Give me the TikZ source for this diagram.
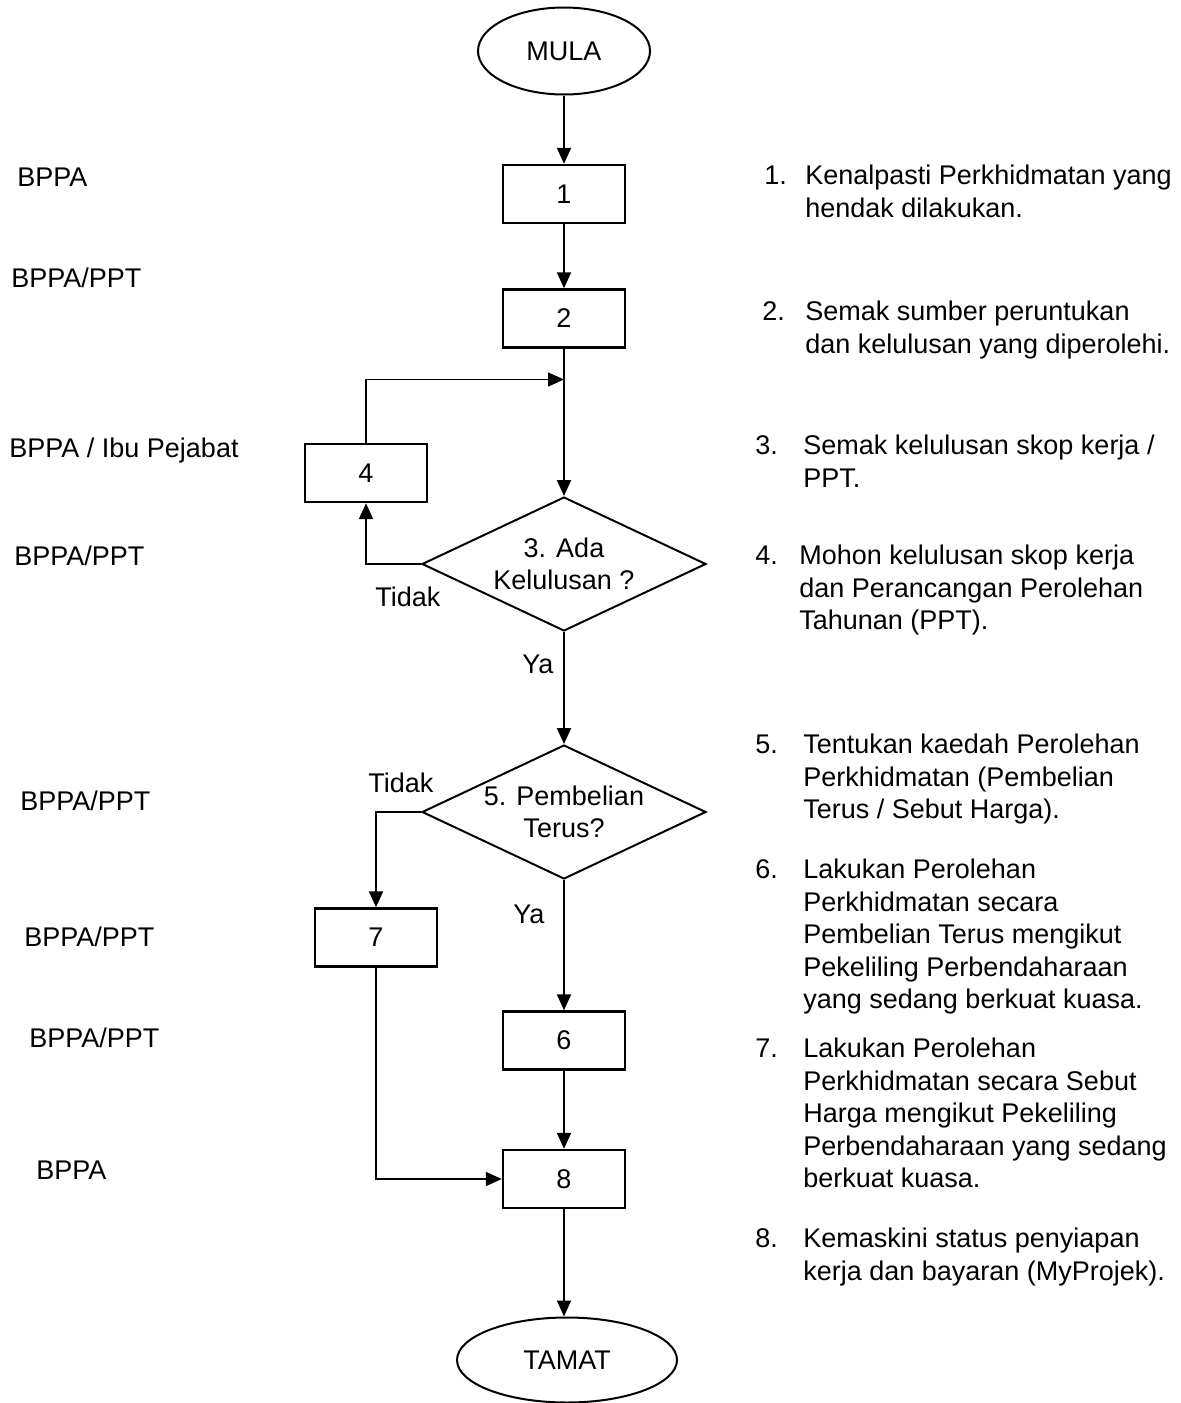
\documentclass[tikz,border=0pt]{standalone}
\usepackage{fontspec}
\setmainfont{Liberation Sans}
\usetikzlibrary{shapes.geometric,arrows.meta}
\tikzset{
  stepbox/.style={draw, line width=1.2pt, minimum width=61pt, minimum height=29pt, inner sep=0pt},
  decision/.style={draw, diamond, line width=1pt, aspect=2.12, minimum width=142pt, minimum height=67pt, inner sep=0pt, align=center},
  terminal/.style={draw, ellipse, line width=1pt, inner sep=0pt},
  flow/.style={line width=1pt, -{Triangle[length=8pt, width=7pt]}},
  thinflow/.style={line width=0.8pt, -{Triangle[length=8pt, width=7pt]}},
  who/.style={anchor=base west, inner sep=0pt},
  note/.style={anchor=north west, inner sep=0pt, align=left, execute at begin node=\strut},
}
\begin{document}
\begin{tikzpicture}[x=0.5pt, y=-0.5pt, font=\fontsize{13.5}{16.3}\selectfont]
    \useasboundingbox (0,0) rectangle (1180,1403);

    \node[terminal, minimum width=86pt, minimum height=43.5pt] (mula) at (564,51) {MULA};
    \node[stepbox] (s1) at (564,194) {1};
    \node[stepbox] (s2) at (564,318.5) {2};
    \node[stepbox] (s4) at (366,473) {4};
    \node[decision] (ada) at (564,564) {3. Ada\\Kelulusan ?};
    \node[decision] (beli) at (564,812) {5. Pembelian\\Terus?};
    \node[stepbox] (s7) at (376,937.5) {7};
    \node[stepbox] (s6) at (564,1040.5) {6};
    \node[stepbox] (s8) at (564,1179) {8};
    \node[terminal, minimum width=110pt, minimum height=42.5pt] (tamat) at (567,1360) {TAMAT};
    \coordinate (join) at (564,379.5);

    \draw[flow] (mula) -- (s1);
    \draw[flow] (s1) -- (s2);
    \draw[flow] (s2) -- (ada);
    \draw[thinflow] (s4.north) |- (join);
    \draw[flow] (ada.west) -| (s4.south);
    \draw[flow] (ada) -- (beli);
    \draw[flow] (beli.west) -| (s7.north);
    \draw[flow] (beli) -- (s6);
    \draw[flow] (s6) -- (s8);
    \draw[thinflow] (s7.south) |- (s8.west);
    \draw[flow] (s8.south) -- (s8.south |- tamat.north);

    \node[who] (tidak1) at (375,606) {Tidak};
    \node[who] (ya1) at (522,673) {Ya};
    \node[who] (tidak2) at (368,792) {Tidak};
    \node[who] (ya2) at (513,923) {Ya};

    \node[who] (who1) at (17,186) {BPPA};
    \node[who] (who2) at (11,287) {BPPA/PPT};
    \node[who] (who3) at (9,457) {BPPA / Ibu Pejabat};
    \node[who] (who4) at (14,565) {BPPA/PPT};
    \node[who] (who5) at (20,810) {BPPA/PPT};
    \node[who] (who6) at (24,946) {BPPA/PPT};
    \node[who] (who7) at (29,1047) {BPPA/PPT};
    \node[who] (who8) at (36,1179) {BPPA};

    \node[who] (num1) at (764,184) {1.};
    \node[note] (note1) at (805,164.5) {Kenalpasti Perkhidmatan yang\\hendak dilakukan.};
    \node[who] (num2) at (762,320) {2.};
    \node[note] (note2) at (805,300.5) {Semak sumber peruntukan\\dan kelulusan yang diperolehi.};
    \node[who] (num3) at (755,454) {3.};
    \node[note] (note3) at (803,434.5) {Semak kelulusan skop kerja /\\PPT.};
    \node[who] (num4) at (755,564) {4.};
    \node[note] (note4) at (799,544.5) {Mohon kelulusan skop kerja\\dan Perancangan Perolehan\\Tahunan (PPT).};
    \node[who] (num5) at (755,753) {5.};
    \node[note] (note5) at (803,733.5) {Tentukan kaedah Perolehan\\Perkhidmatan (Pembelian\\Terus / Sebut Harga).};
    \node[who] (num6) at (755,878) {6.};
    \node[note] (note6) at (803,858.5) {Lakukan Perolehan\\Perkhidmatan secara\\Pembelian Terus mengikut\\Pekeliling Perbendaharaan\\yang sedang berkuat kuasa.};
    \node[who] (num7) at (755,1057) {7.};
    \node[note] (note7) at (803,1037.5) {Lakukan Perolehan\\Perkhidmatan secara Sebut\\Harga mengikut Pekeliling\\Perbendaharaan yang sedang\\berkuat kuasa.};
    \node[who] (num8) at (755,1247) {8.};
    \node[note] (note8) at (803,1227.5) {Kemaskini status penyiapan\\kerja dan bayaran (MyProjek).};
\end{tikzpicture}
\end{document}
